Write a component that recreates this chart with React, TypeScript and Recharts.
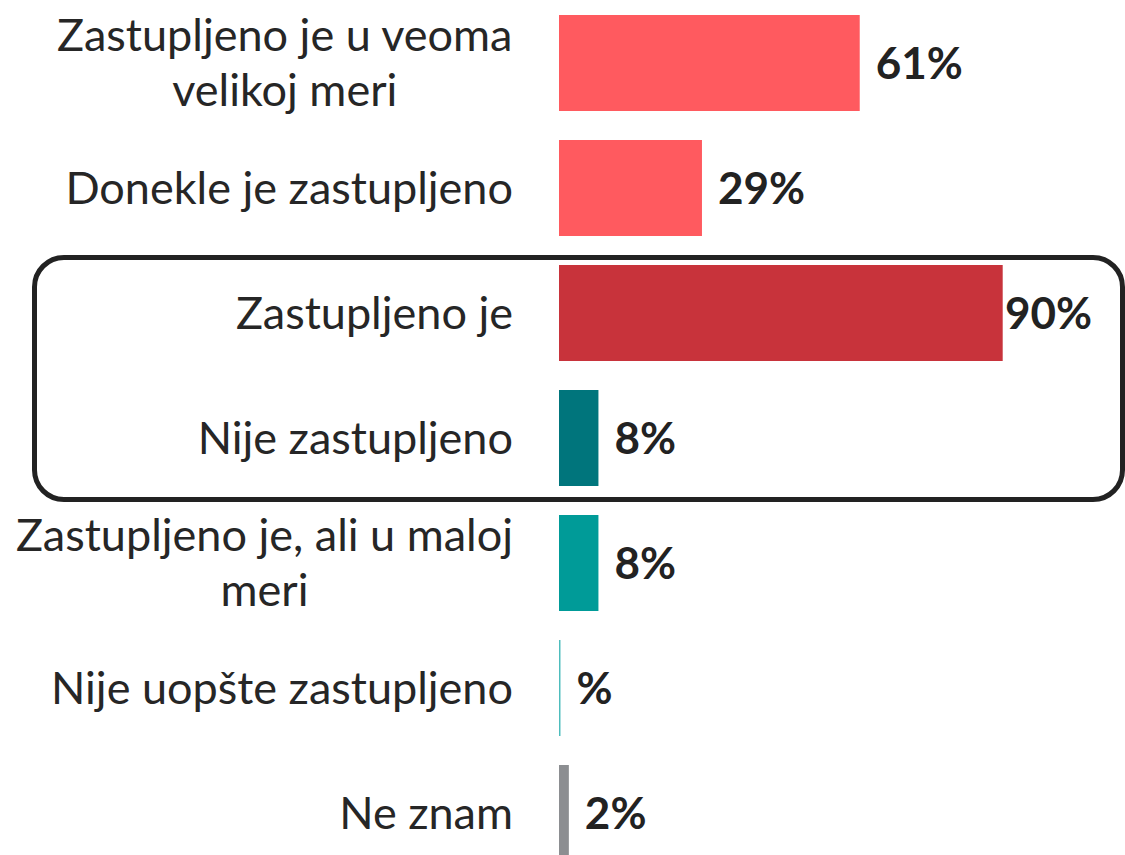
import React from 'react';
import { BarChart, Bar, XAxis, YAxis, Cell, LabelList } from 'recharts';

const categories = [
  'Zastupljeno je u veoma velikoj meri',
  'Donekle je zastupljeno',
  'Zastupljeno je',
  'Nije zastupljeno',
  'Zastupljeno je, ali u maloj meri',
  'Nije uopšte zastupljeno',
  'Ne znam',
];
const values = [61, 29, 90, 8, 8, 0.3, 2];
const valueLabels = ['61%', '29%', '90%', '8%', '8%', '%', '2%'];
const colors = ['#FF5A5F', '#FF5A5F', '#C8333B', '#00757C', '#009B98', '#4DBDBD', '#8C8E91'];

const data = categories.map((name, i) => ({ name, value: values[i] }));

const FONT = 'Lato, "Open Sans", sans-serif';
const CAT_SIZE = 45;
const VAL_SIZE = 44;
const TEXT_COLOR = '#262626';
const CHART_W = 1125;
const CHART_H = 875;

let ctx: CanvasRenderingContext2D | null = null;
function measure(text: string, font: string): number {
  if (!ctx) {
    const c = document.createElement('canvas');
    ctx = c.getContext('2d');
  }
  if (!ctx) return text.length * 20;
  ctx.font = font;
  return ctx.measureText(text).width;
}

const catFont = `${CAT_SIZE}px ${FONT}`;
const valFont = `bold ${VAL_SIZE}px ${FONT}`;

function wrap(text: string, maxW: number): string[] {
  const words = text.split(' ');
  const lines: string[] = [];
  let cur = '';
  for (const w of words) {
    const test = cur ? cur + ' ' + w : w;
    if (cur && measure(test, catFont) > maxW) {
      lines.push(cur);
      cur = w;
    } else {
      cur = test;
    }
  }
  if (cur) lines.push(cur);
  return lines;
}

const CategoryTick = (props: any) => {
  const { x, y, payload } = props;
  const lines = wrap(String(payload.value), 516);
  const widths = lines.map((l) => measure(l, catFont));
  const maxW = Math.max(...widths);
  const cx = x - maxW / 2;
  const lineH = 55;
  const y0 = y - ((lines.length - 1) * lineH) / 2;
  return (
    <text
      x={cx}
      y={y0}
      textAnchor="middle"
      fill={TEXT_COLOR}
      style={{ fontFamily: FONT, fontSize: CAT_SIZE }}
    >
      {lines.map((l, i) => (
        <tspan key={i} x={cx} y={y0 + i * lineH} dy="0.36em">
          {l}
        </tspan>
      ))}
    </text>
  );
};

const ValueLabel = (props: any) => {
  const { x, y, width, height, index } = props;
  const text = valueLabels[index];
  const w = measure(text, valFont);
  let lx = Number(x) + Number(width) + 16;
  const limit = CHART_W - 33;
  if (lx + w > limit) lx = limit - w;
  return (
    <text
      x={lx}
      y={Number(y) + Number(height) / 2}
      dy="0.36em"
      fill="#222222"
      style={{ fontFamily: FONT, fontSize: VAL_SIZE, fontWeight: 700 }}
    >
      {text}
    </text>
  );
};

export default function App() {
  return (
    <div style={{ position: 'absolute', left: 0, top: 0, width: CHART_W, height: CHART_H, background: '#fff' }}>
      <BarChart
        width={CHART_W}
        height={CHART_H}
        data={data}
        layout="vertical"
        margin={{ top: 0, right: 73, left: 19, bottom: 0 }}
      >
        <XAxis type="number" domain={[0, 100]} hide />
        <YAxis
          type="category"
          dataKey="name"
          width={540}
          axisLine={false}
          tickLine={false}
          tickMargin={40}
          interval={0}
          tick={<CategoryTick />}
        />
        <Bar dataKey="value" barSize={96} isAnimationActive={false}>
          {data.map((d, i) => (
            <Cell key={i} fill={colors[i]} />
          ))}
          <LabelList dataKey="value" content={<ValueLabel />} />
        </Bar>
      </BarChart>
      <div
        style={{
          position: 'absolute',
          left: 32,
          top: 255,
          width: 1093,
          height: 247,
          border: '5px solid #222222',
          borderRadius: 32,
          boxSizing: 'border-box',
          pointerEvents: 'none',
        }}
      />
    </div>
  );
}
